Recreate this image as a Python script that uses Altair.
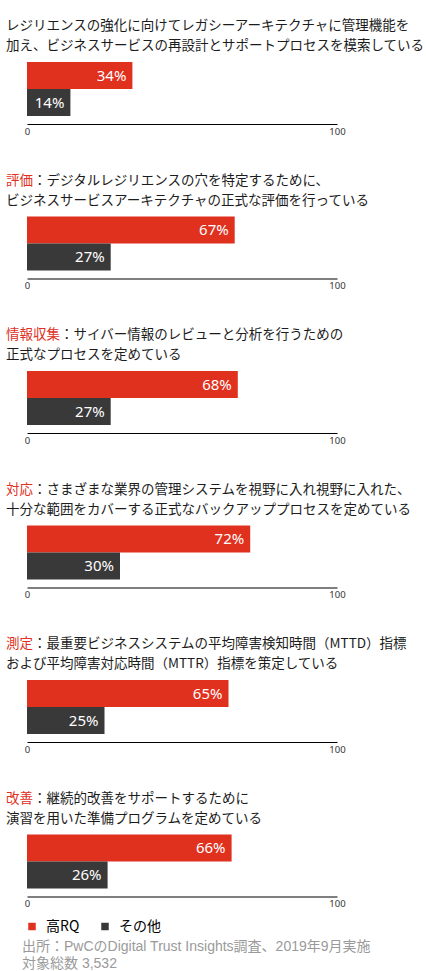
import altair as alt
import pandas as pd

# Survey groups and results (percent of respondents)
GROUPS = ["高RQ", "その他"]
HIGH_RQ = [34, 67, 68, 72, 65, 66]
OTHERS = [14, 27, 27, 30, 25, 26]
TICKS = [0, 100]

# Panel headings: red keyword, rest of the first line, second line
PREFIXES = ["", "評価", "情報収集", "対応", "測定", "改善"]
LINE1 = [
    "レジリエンスの強化に向けてレガシーアーキテクチャに管理機能を",
    "：デジタルレジリエンスの穴を特定するために、",
    "：サイバー情報のレビューと分析を行うための",
    "：さまざまな業界の管理システムを視野に入れ視野に入れた、",
    "：最重要ビジネスシステムの平均障害検知時間（MTTD）指標",
    "：継続的改善をサポートするために",
]
LINE2 = [
    "加え、ビジネスサービスの再設計とサポートプロセスを模索している",
    "ビジネスサービスアーキテクチャの正式な評価を行っている",
    "正式なプロセスを定めている",
    "十分な範囲をカバーする正式なバックアッププロセスを定めている",
    "および平均障害対応時間（MTTR）指標を策定している",
    "演習を用いた準備プログラムを定めている",
]
SOURCE = ["出所：PwCのDigital Trust Insights調査、2019年9月実施", "対象総数 3,532"]

RED = "#E0301E"
DARK = "#393939"
TEXT = "#1c1c1c"
JP = "Noto Sans CJK JP"
NOTE_FONT = "Liberation Sans, Noto Sans CJK JP"
HEAD_SIZE = 13.5
HEAD_X = -21

color_scale = alt.Scale(domain=GROUPS, range=[RED, DARK])


def panel(i, last=False):
    df = pd.DataFrame({
        "group": GROUPS,
        "value": [HIGH_RQ[i], OTHERS[i]],
    })
    df["label"] = df["value"].astype(str) + "%"
    base = alt.Chart(df)

    y = alt.Y("group:N", sort=GROUPS, axis=None,
              scale=alt.Scale(paddingInner=0, paddingOuter=0))
    x = alt.X("value:Q", scale=alt.Scale(domain=[0, 100]),
              axis=alt.Axis(values=TICKS, title=None, grid=False, ticks=False,
                            domainColor="#000000", domainWidth=1.2,
                            labelFontSize=9.5, labelColor="#333333",
                            labelFont="Noto Sans", labelPadding=2,
                            labelFlush=False, offset=8))

    if last:
        legend = alt.Legend(orient="none", legendX=-2, legendY=85,
                            direction="horizontal", title=None,
                            symbolType="square", symbolSize=56,
                            symbolStrokeWidth=0, labelFont=JP,
                            labelFontSize=14, labelColor="#000000",
                            labelOffset=7, columnPadding=18, padding=0)
    else:
        legend = None

    bars = base.mark_bar().encode(
        x=x, y=y,
        color=alt.Color("group:N", scale=color_scale, legend=legend),
    )
    labels = base.mark_text(align="right", baseline="middle", dx=-6,
                            color="white", fontSize=15,
                            font="Noto Sans").encode(
        x="value:Q", y=alt.Y("group:N", sort=GROUPS), text="label:N")

    head = alt.Chart(pd.DataFrame({"line1": [LINE1[i]], "line2": [LINE2[i]],
                                   "prefix": [PREFIXES[i]]}))
    head_style = dict(align="left", baseline="middle", fontSize=HEAD_SIZE, font=JP)
    # the keyword is full-width CJK, so the rest of the line starts one em per character later
    rest_x = HEAD_X + HEAD_SIZE * len(PREFIXES[i])
    layers = [bars, labels]
    if PREFIXES[i]:
        layers.append(head.mark_text(color=RED, **head_style).encode(
            x=alt.value(HEAD_X), y=alt.value(-36), text="prefix:N"))
    layers.append(head.mark_text(color=TEXT, **head_style).encode(
        x=alt.value(rest_x), y=alt.value(-36), text="line1:N"))
    layers.append(head.mark_text(color=TEXT, **head_style).encode(
        x=alt.value(HEAD_X), y=alt.value(-16), text="line2:N"))

    if last:
        # two-line source note below the legend
        src = alt.Chart(pd.DataFrame({"n": [1]}))
        layers.append(src.mark_text(
            text=SOURCE, lineHeight=17, align="left", baseline="top",
            fontSize=14, font=NOTE_FONT, color="#9a9a9a",
        ).encode(x=alt.value(-5), y=alt.value(105)))

    return alt.layer(*layers).properties(width=310, height=54)


panels = [panel(i, last=(i == len(HIGH_RQ) - 1)) for i in range(len(HIGH_RQ))]

chart = alt.vconcat(*panels, spacing=37.5).resolve_legend(
    color="independent"
).properties(
    padding={"left": 6, "top": 19, "right": 0, "bottom": 0},
).configure_view(stroke=None)

chart.save("out.html", embed_options={"renderer": "svg", "actions": False})
